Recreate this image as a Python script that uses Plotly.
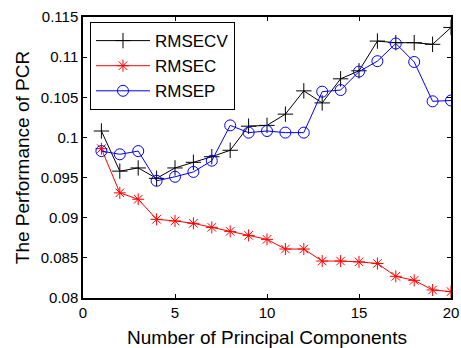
import plotly.graph_objects as go

components = list(range(1, 21))
rmsecv = [0.1008, 0.0958, 0.0962, 0.0949, 0.0962, 0.0969, 0.0976, 0.0984, 0.1014, 0.1015,
          0.1029, 0.1058, 0.1043, 0.1073, 0.1083, 0.1120, 0.1118, 0.1118, 0.1116, 0.1137]
rmsec = [0.0986, 0.0931, 0.0923, 0.0898, 0.0896, 0.0893, 0.0888, 0.0883, 0.0878, 0.0873,
         0.0861, 0.0861, 0.0846, 0.0846, 0.0845, 0.0843, 0.0827, 0.0822, 0.0810, 0.0808]
rmsep = [0.0983, 0.0979, 0.0983, 0.0946, 0.0951, 0.0957, 0.0971, 0.1015, 0.1006, 0.1008,
         0.1006, 0.1006, 0.1057, 0.1059, 0.1082, 0.1095, 0.1117, 0.1094, 0.1045, 0.1046]
ytickvals = [0.08, 0.085, 0.09, 0.095, 0.1, 0.105, 0.11, 0.115]
yticktext = ["0.08", "0.085", "0.09", "0.095", "0.1", "0.105", "0.11", "0.115"]
xtickvals = [0, 5, 10, 15, 20]

FONT = "Liberation Sans, Arial, sans-serif"

fig = go.Figure()
fig.add_trace(go.Scatter(
    x=components, y=rmsecv, name="RMSECV", mode="lines+markers",
    line=dict(color="black", width=1),
    marker=dict(symbol="cross-thin", size=11, color="black", line=dict(color="black", width=1)),
))
fig.add_trace(go.Scatter(
    x=components, y=rmsec, name="RMSEC", mode="lines+markers",
    line=dict(color="red", width=1),
    marker=dict(symbol="asterisk", size=10, color="red", line=dict(color="red", width=1)),
))
fig.add_trace(go.Scatter(
    x=components, y=rmsep, name="RMSEP", mode="lines+markers",
    line=dict(color="blue", width=1),
    marker=dict(symbol="circle-open", size=11, color="blue", line=dict(color="blue", width=1)),
))

axis_common = dict(
    showline=True, linecolor="black", linewidth=1.5, mirror="ticks",
    ticks="inside", ticklen=4, tickcolor="black", tickwidth=1,
    showgrid=False, zeroline=False, automargin=False,
    ticklabeloverflow="allow",
    tickfont=dict(family=FONT, size=15, color="black"),
)
fig.update_xaxes(range=[0, 20], tickvals=xtickvals,
                 title=dict(text="Number of Principal Components", font=dict(family=FONT, size=19, color="black"), standoff=12),
                 **axis_common)
fig.update_yaxes(range=[0.08, 0.115], tickvals=ytickvals, ticktext=yticktext,
                 title=dict(text="The Performance of PCR", font=dict(family=FONT, size=19, color="black"), standoff=6),
                 **axis_common)

fig.update_layout(
    width=461, height=348,
    margin=dict(l=83, r=10, t=17, b=50),
    paper_bgcolor="white", plot_bgcolor="white",
    font=dict(family=FONT, color="black"),
    legend=dict(
        x=0.019, y=0.982, xanchor="left", yanchor="top",
        bgcolor="white", bordercolor="black", borderwidth=1,
        font=dict(family=FONT, size=17, color="black"),
        itemwidth=54, tracegroupgap=0,
    ),
)

fig.write_html("out.html")
